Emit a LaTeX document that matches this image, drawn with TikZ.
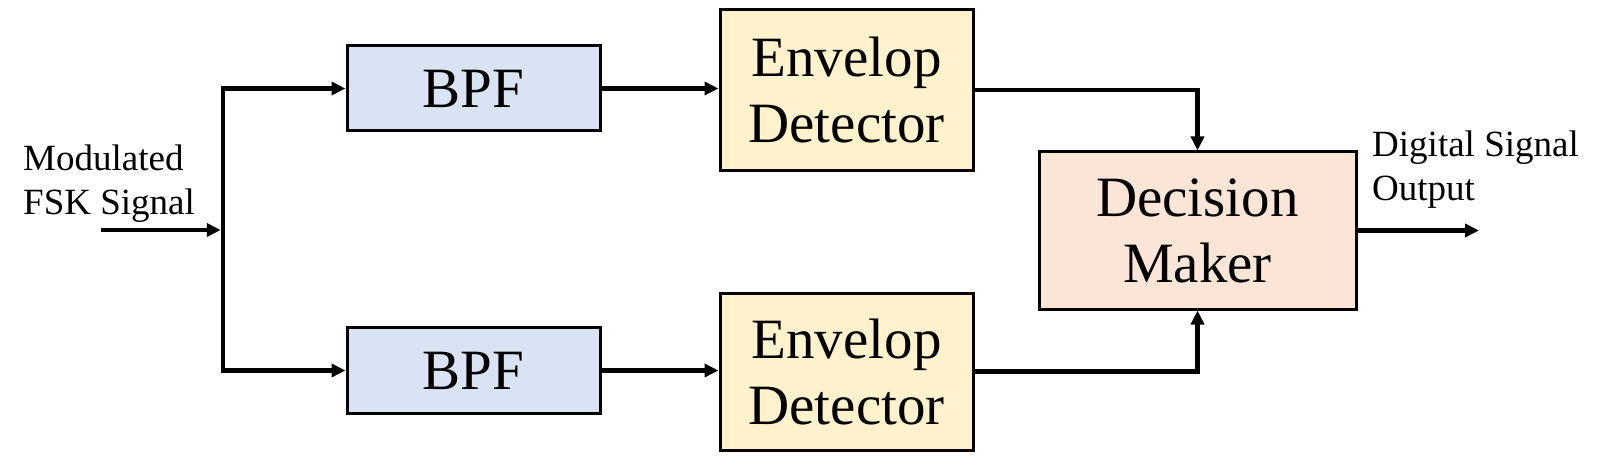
\documentclass[tikz,border=0pt]{standalone}
\usepackage{fontspec}
\setmainfont{Liberation Serif}
\usetikzlibrary{arrows.meta}
\definecolor{bpfblue}{HTML}{DAE3F3}
\definecolor{envyellow}{HTML}{FFF2CC}
\definecolor{decpeach}{HTML}{FBE5D6}
\tikzset{
  blockbox/.style={draw=black, line width=3pt, inner sep=0pt, align=center,
    font=\fontsize{57}{66}\selectfont},
  arr/.style={line width=4.5pt, line join=miter, -{Triangle[length=14pt,width=13pt]}},
  lbl/.style={inner sep=0pt, align=left, anchor=north west, font=\fontsize{37}{43.5}\selectfont}
}
\begin{document}
\begin{tikzpicture}[x=1pt,y=-1pt]
\useasboundingbox (0,0) rectangle (1614,476);
\node[blockbox, fill=bpfblue, minimum width=253pt, minimum height=85pt] (bpf1) at (473.5,88.5) {BPF};
\node[blockbox, fill=bpfblue, minimum width=253pt, minimum height=86pt] (bpf2) at (473.5,370.5) {BPF};
\node[blockbox, fill=envyellow, minimum width=253pt, minimum height=160pt] (env1) at (846.5,90) {Envelop\\Detector};
\node[blockbox, fill=envyellow, minimum width=253pt, minimum height=157pt] (env2) at (846.5,371.5) {Envelop\\Detector};
\node[blockbox, fill=decpeach, minimum width=317pt, minimum height=157pt] (dec) at (1197.5,230.5) {Decision\\Maker};
\node[lbl] (inlbl) at (23,145) {Modulated\\FSK Signal};
\node[lbl] (outlbl) at (1372,131) {Digital Signal\\Output};
\coordinate (in) at (101,230);
\coordinate (split) at (223,230);
\coordinate (out) at (1479,230.5);
\draw[arr, shorten >=2.25pt] (in) -- (split);
\draw[arr] (split) |- (bpf1.west);
\draw[arr] (split) |- (bpf2.west);
\draw[arr] (bpf1.east) -- (bpf1.east -| env1.west);
\draw[arr] (bpf2.east) -- (bpf2.east -| env2.west);
\draw[arr] (env1.east) -| (dec.north);
\draw[arr] (env2.east) -| (dec.south);
\draw[arr] (dec.east) -- (out);
\end{tikzpicture}
\end{document}
